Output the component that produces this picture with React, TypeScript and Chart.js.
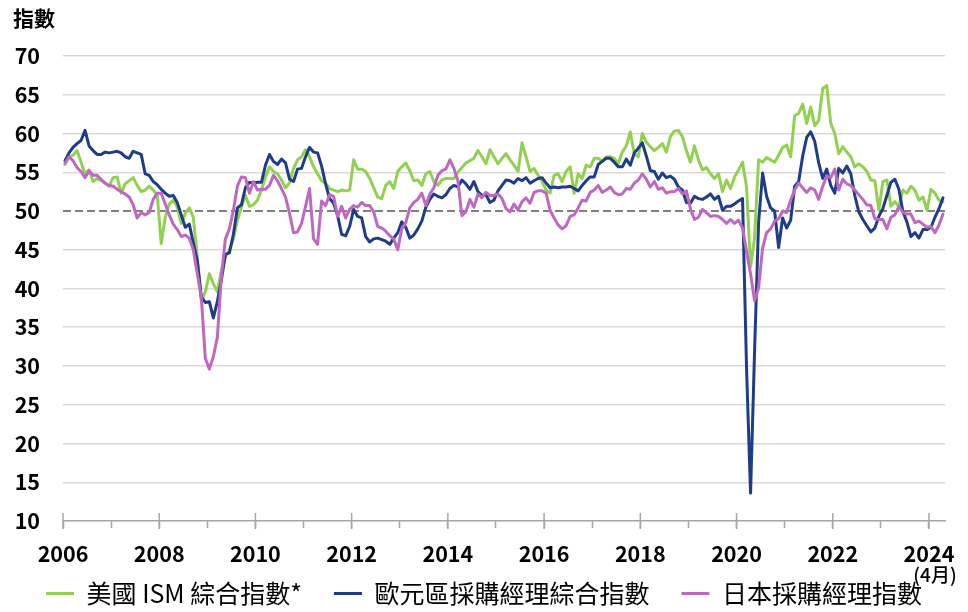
import React, { useEffect, useRef } from "react";
import { Chart, registerables } from "chart.js";

Chart.register(...registerables);

// ---------- data ----------
const START_YEAR = 2006;
const LABEL_EVERY_YEARS = 2;
const LAST_MONTH_NOTE = "(4月)";
const Y_TITLE = "指數";
const Y_MIN = 10;
const Y_MAX = 70;
const Y_STEP = 5;
const REF_LEVEL = 50;

const seriesNames = ["美國 ISM 綜合指數*", "歐元區採購經理綜合指數", "日本採購經理指數"];
const seriesColors = ["#92D050", "#1F3C88", "#BF68C1"];

// monthly, Jan 2006 .. Apr 2024
const usIsm = [
  56.0, 57.0, 57.2, 57.8, 56.3, 54.8, 55.3, 53.8, 54.2, 53.9, 53.6, 53.2,
  54.3, 54.4, 52.3, 53.5, 53.9, 54.3, 53.3, 52.5, 52.7, 53.2, 52.7, 52.1,
  45.8, 49.2, 50.9, 51.4, 50.5, 48.4, 49.7, 50.4, 49.2, 44.0, 38.3, 39.6,
  41.9, 40.6, 39.6, 42.3, 44.1, 44.9, 46.4, 48.8, 50.5, 52.0, 50.6, 50.8,
  51.4, 52.7, 54.4, 55.7, 55.1, 54.8, 54.0, 53.0, 53.6, 55.5, 56.6, 57.0,
  57.9, 57.0, 55.7, 54.8, 53.9, 53.6, 52.9, 52.7, 52.5, 52.7, 52.6, 52.7,
  56.6, 55.4, 55.4, 55.1, 54.2, 53.0, 51.8, 51.6, 53.3, 53.8, 52.9, 55.1,
  55.7, 56.2, 55.2, 53.9, 54.0, 53.3, 54.8, 55.1, 53.8, 53.3, 54.0, 54.2,
  54.2, 54.2, 55.0, 55.6, 56.2, 56.5, 56.8, 57.8, 57.0, 56.1, 57.9, 57.0,
  56.1, 56.8, 57.4, 56.6, 55.9, 55.1, 58.8, 57.0, 55.1, 55.5, 54.6, 53.8,
  52.7, 52.3, 54.6, 54.8, 53.8, 55.1, 55.7, 52.3, 54.8, 54.2, 55.9, 55.7,
  56.8, 56.8, 56.4, 57.0, 57.0, 56.8, 56.1, 57.6, 58.4, 60.2, 57.4, 57.0,
  60.0, 58.9, 58.3, 57.8, 58.2, 58.7, 57.6, 59.6, 60.3, 60.4, 59.6, 57.8,
  56.3, 58.4, 56.6, 55.3, 55.6, 54.8, 54.2, 54.8, 52.5, 54.0, 52.9, 54.4,
  55.3, 56.3, 53.1, 42.8, 46.5, 56.6, 56.3, 56.9, 56.6, 56.3, 57.2, 58.2,
  58.5, 57.0, 62.3, 62.6, 63.8, 61.3, 63.4, 61.0, 61.7, 65.8, 66.2, 61.3,
  60.0, 57.4, 58.3, 57.6, 57.0, 55.7, 56.1, 55.7, 55.1, 54.0, 53.9, 50.1,
  53.8, 54.0, 50.6, 51.2, 50.6, 52.7, 52.3, 53.2, 52.7, 51.4, 51.8, 50.1,
  52.8, 52.3, 51.4, 51.2,
];

const euroPmi = [
  56.5, 57.5, 58.2, 58.7, 59.1, 60.4, 58.4, 57.8, 57.3, 57.3, 57.6, 57.5,
  57.6, 57.7, 57.5, 57.0, 56.8, 57.7, 57.5, 57.3, 54.8, 54.6, 53.8, 53.4,
  52.8, 52.3, 51.9, 52.0, 51.1, 49.5, 47.9, 48.3, 45.9, 43.6, 38.9, 38.2,
  38.3, 36.2, 38.3, 41.1, 44.4, 44.6, 47.0, 50.4, 50.8, 53.0, 53.7, 53.6,
  53.7, 53.7, 55.9, 57.3, 56.4, 56.0, 56.7, 56.2, 54.1, 53.8, 55.4, 55.5,
  57.0, 58.2, 57.6, 57.5, 55.8, 53.5, 51.6, 51.0, 49.4, 47.0, 46.8, 48.0,
  50.2, 49.3, 49.1, 46.7, 46.0, 46.4, 46.5, 46.3, 46.1, 45.7, 46.5, 47.2,
  48.6, 47.9, 46.5, 46.9, 47.7, 48.7, 50.5, 51.5, 52.2, 51.9, 51.7, 52.1,
  52.9, 53.3, 53.1, 54.0, 53.5, 52.8, 53.8, 52.5, 52.0, 52.1, 51.1, 51.4,
  52.6, 53.3, 54.0, 53.9, 53.6, 54.2, 53.9, 54.3, 53.6, 53.9, 54.2, 54.3,
  53.6, 53.0, 53.1, 53.0, 53.1, 53.1, 53.2, 52.9, 52.6, 53.3, 53.9, 54.4,
  54.4, 56.0, 56.4, 56.8, 56.8, 56.3, 55.7, 55.7, 56.7, 55.9, 57.5, 58.1,
  58.8, 57.1, 55.2, 55.1, 54.1, 54.9, 54.3, 54.5, 54.1, 53.1, 52.7, 51.1,
  51.0, 51.9, 51.6, 51.5, 51.8, 52.2, 51.5, 51.9, 50.1, 50.6, 50.6, 50.9,
  51.3, 51.6, 29.7, 13.6, 31.9, 48.5, 54.9, 51.9, 50.4, 50.0, 45.3, 49.1,
  47.8, 48.8, 53.2, 53.8, 57.1, 59.5, 60.2, 59.0, 56.2, 54.2, 55.4, 53.3,
  52.3, 55.5, 54.9, 55.8, 54.8, 52.0, 49.9, 48.9, 48.1, 47.3, 47.8, 49.3,
  50.3, 52.0, 53.7, 54.1, 52.8, 49.9, 48.6, 46.7, 47.2, 46.5, 47.6, 47.6,
  47.9, 49.2, 50.3, 51.7,
];

const japanPmi = [
  56.2, 57.0, 56.5, 55.6, 55.1, 54.3, 55.2, 54.6, 54.6, 54.1, 53.6, 53.3,
  53.2, 52.8, 52.5, 52.2, 51.8, 50.8, 49.1, 49.8, 49.5, 49.8, 51.5, 52.3,
  52.3, 50.9, 49.5, 48.3, 47.6, 46.7, 46.9, 46.5, 45.0, 41.9, 38.9, 31.0,
  29.6, 31.2, 33.7, 41.5, 46.4, 47.7, 50.1, 53.2, 54.4, 54.3, 52.3, 53.8,
  52.7, 52.8, 52.8, 53.3, 54.6, 53.9, 52.9, 51.8, 49.7, 47.2, 47.3, 48.4,
  50.6, 52.9, 46.4, 45.7, 51.3, 50.7, 52.1, 51.9, 49.3, 50.6, 49.1, 50.2,
  50.7, 50.5, 51.1, 50.7, 50.7, 49.9, 48.0, 47.8, 47.4, 46.8, 46.4, 45.0,
  47.7, 48.5, 50.4, 51.1, 51.5, 52.3, 50.7, 52.2, 53.0, 54.6, 55.2, 55.4,
  56.6, 55.5, 53.9, 49.4, 49.9, 51.5, 50.5, 52.2, 51.7, 52.4, 52.0, 52.0,
  52.2, 51.6, 50.3, 49.9, 50.9, 50.1, 51.2, 51.7, 51.0, 52.4, 52.6, 52.6,
  52.3, 50.1, 49.1, 48.2, 47.7, 48.1, 49.3, 49.5, 50.4, 51.4, 51.3, 52.4,
  52.7, 53.3, 52.4, 52.7, 53.1, 52.4, 52.1, 52.2, 52.9, 52.8, 53.6, 54.0,
  54.8, 54.1, 53.1, 53.8, 52.8, 53.0, 52.3, 52.5, 52.5, 52.9, 52.2, 52.6,
  50.3, 48.9, 49.2, 50.2, 49.8, 49.3, 49.4, 49.3, 48.9, 48.4, 48.9, 48.4,
  48.8, 47.8, 44.8, 41.9, 38.4, 40.1, 45.2, 47.2, 47.7, 48.7, 49.0, 50.0,
  49.8, 51.4, 52.7, 53.6, 53.0, 52.4, 53.0, 52.7, 51.5, 53.2, 54.5, 54.3,
  55.4, 52.7, 54.1, 53.5, 53.3, 52.7, 52.1, 51.5, 50.8, 50.7, 49.0, 48.9,
  48.9, 47.7, 49.2, 49.5, 50.6, 49.8, 49.6, 49.6, 48.5, 48.7, 48.3, 47.9,
  48.0, 47.2, 48.2, 49.6,
];

// ---------- chart ----------
const FONT = "'Noto Sans CJK TC', 'Noto Sans', sans-serif";
const MONTHS = usIsm.length;
const toPoints = (arr: number[]) => arr.map((v, i) => ({ x: i + 0.5, y: v }));

const CANVAS_W = 968;
const CANVAS_H = 612;
const PLOT_TOP = 56;
const PLOT_BOTTOM = 521;
const X_AXIS_H = 47;
const LEGEND_FONT = 25;
const LEGEND_PAD = 32;
const LEGEND_TEXT_Y = 593.5;

const annotationPlugin = {
  id: "annot",
  afterLayout(chart: any) {
    const lg = chart.legend;
    if (!lg) return;
    lg.top = LEGEND_TEXT_Y - LEGEND_PAD - LEGEND_FONT / 2;
    lg.bottom = CANVAS_H;
    lg.height = lg.bottom - lg.top;
  },
  afterDraw(chart: any) {
    const { ctx, chartArea, scales } = chart;
    const xs = scales.x;
    ctx.save();
    ctx.strokeStyle = "#a6a6a6";
    ctx.lineWidth = 1.5;
    xs.ticks.forEach((t: any) => {
      if (t.value % (12 * LABEL_EVERY_YEARS) === 0) {
        const px = xs.getPixelForValue(t.value);
        ctx.beginPath();
        ctx.moveTo(px, chartArea.bottom - 8);
        ctx.lineTo(px, chartArea.bottom + 8);
        ctx.stroke();
      }
    });
    ctx.fillStyle = "#000";
    ctx.textBaseline = "middle";
    ctx.textAlign = "left";
    ctx.font = `bold 21px ${FONT}`;
    ctx.fillText(Y_TITLE, 13, 18);
    const lastLabelled = Math.floor((MONTHS - 1) / (12 * LABEL_EVERY_YEARS)) * 12 * LABEL_EVERY_YEARS;
    const lx = xs.getPixelForValue(lastLabelled);
    ctx.textAlign = "center";
    ctx.font = `500 19px ${FONT}`;
    ctx.fillText(LAST_MONTH_NOTE, lx + 6, 575);
    ctx.restore();
  },
};

export default function App() {
  const ref = useRef<HTMLCanvasElement | null>(null);

  useEffect(() => {
    if (!ref.current) return;
    const tickFont = { family: FONT, size: 21.5, weight: "600" as any };
    const lineStyle = { borderWidth: 3, pointRadius: 0, borderJoinStyle: "round", borderCapStyle: "round" };
    const chart = new Chart(ref.current, {
      type: "line",
      data: {
        datasets: [
          { label: seriesNames[0], data: toPoints(usIsm), borderColor: seriesColors[0], backgroundColor: seriesColors[0], ...lineStyle, order: 3 },
          { label: seriesNames[1], data: toPoints(euroPmi), borderColor: seriesColors[1], backgroundColor: seriesColors[1], ...lineStyle, order: 2 },
          { label: seriesNames[2], data: toPoints(japanPmi), borderColor: seriesColors[2], backgroundColor: seriesColors[2], ...lineStyle, order: 1 },
          { label: "ref", data: [{ x: 0, y: REF_LEVEL }, { x: MONTHS, y: REF_LEVEL }], borderColor: "#808080", borderWidth: 2, borderDash: [8, 4], pointRadius: 0, order: 4 },
        ],
      },
      options: {
        responsive: false,
        animation: false,
        events: [],
        devicePixelRatio: 1,
        layout: { padding: { top: PLOT_TOP, left: 0, right: 0, bottom: 0 } },
        scales: {
          x: {
            type: "linear",
            min: 0,
            max: MONTHS,
            ticks: {
              stepSize: 12,
              includeBounds: false,
              autoSkip: false,
              maxRotation: 0,
              padding: 12.5,
              color: "#000",
              font: tickFont,
              callback: (v: any) => (Number(v) % (12 * LABEL_EVERY_YEARS) === 0 ? String(START_YEAR + Number(v) / 12) : ""),
            },
            grid: { display: true, drawOnChartArea: false, drawTicks: true, tickLength: 7, tickColor: "#a6a6a6", tickWidth: 1.5 },
            border: { display: true, color: "#a6a6a6", width: 1.5 },
            afterFit: (s: any) => { s.height = X_AXIS_H; },
          },
          y: {
            type: "linear",
            min: Y_MIN,
            max: Y_MAX,
            ticks: { stepSize: Y_STEP, padding: 23, color: "#000", font: tickFont },
            grid: {
              drawTicks: false,
              lineWidth: 1.5,
              color: (c: any) => (c.tick && (c.tick.value === Y_MIN || c.tick.value === REF_LEVEL) ? "rgba(0,0,0,0)" : "#d9d9d9"),
            },
            border: { display: false },
            afterFit: (s: any) => { s.width = 63; },
          },
          y2: {
            type: "linear",
            position: "right",
            display: true,
            ticks: { display: false },
            grid: { display: false },
            border: { display: false },
            afterFit: (s: any) => { s.width = 23; },
          },
        },
        plugins: {
          title: { display: false },
          tooltip: { enabled: false },
          legend: {
            display: true,
            position: "bottom",
            maxHeight: CANVAS_H - PLOT_BOTTOM - X_AXIS_H,
            labels: {
              boxWidth: 28,
              boxHeight: 3,
              padding: LEGEND_PAD,
              color: "#000",
              font: { family: FONT, size: LEGEND_FONT },
              sort: (a: any, b: any) => a.datasetIndex - b.datasetIndex,
              generateLabels: (ch: any) =>
                Chart.defaults.plugins.legend.labels
                  .generateLabels(ch)
                  .filter((l: any) => l.datasetIndex < seriesNames.length)
                  .map((l: any) => ({ ...l, lineWidth: 0, fillStyle: seriesColors[l.datasetIndex], lineDash: [] })),
            },
          },
        },
      },
      plugins: [annotationPlugin],
    } as any);
    return () => chart.destroy();
  }, []);

  return (
    <div style={{ position: "fixed", left: 0, top: 0, width: CANVAS_W, height: CANVAS_H, background: "#fff" }}>
      <canvas ref={ref} width={CANVAS_W} height={CANVAS_H} style={{ display: "block" }} />
    </div>
  );
}
